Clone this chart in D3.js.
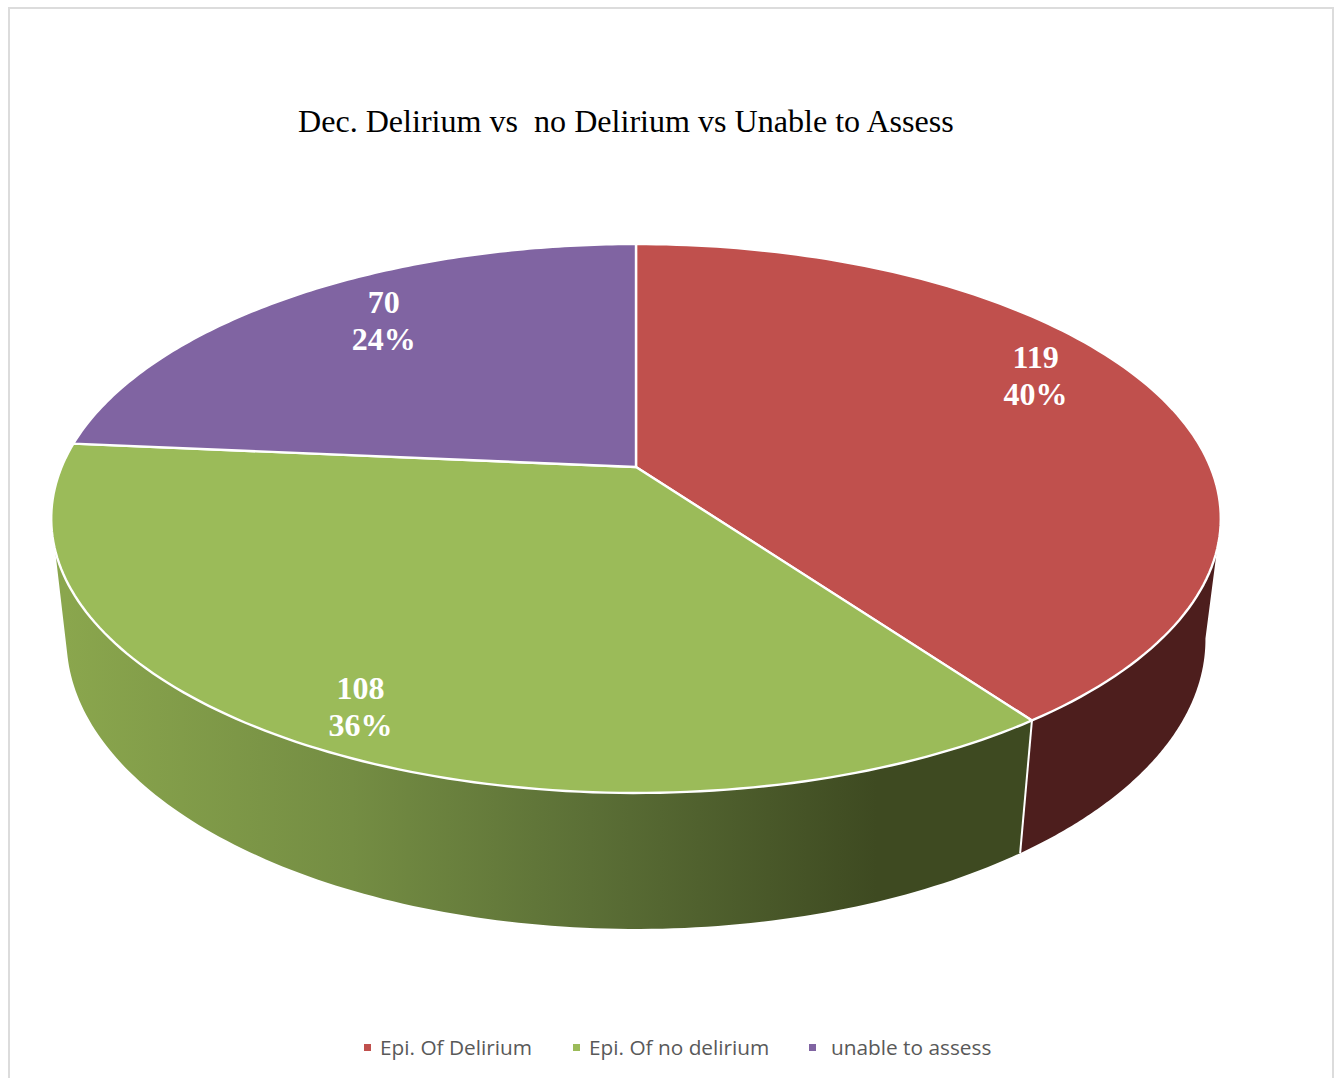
<!DOCTYPE html>
<html>
<head>
<meta charset="utf-8">
<script src="https://cdn.jsdelivr.net/npm/d3@7/dist/d3.min.js"></script>
<style>
html,body{margin:0;padding:0;background:#fff;overflow:hidden}
svg{display:block}
text{white-space:pre}
</style>
</head>
<body>
<svg id="chart" width="1338" height="1078"></svg>
<script>
const categories = ["Epi. Of Delirium", "Epi. Of no delirium", "unable to assess"];
const values = [119, 108, 70];
const percents = ["40%", "36%", "24%"];
const topColors = ["#c0504d", "#9bbb59", "#8064a2"];
const wallColors = ["#4d1e1d", "url(#greenWall)", "#3a2c4a"];
const chartTitle = "Dec. Delirium vs  no Delirium vs Unable to Assess";
const greenWallStops = [[0, "#8aa64d"], [0.3, "#748d43"], [0.55, "#5b6f36"], [0.85, "#3e4a21"], [1, "#3e4a21"]];

// Perspective model of the disc: c = pie centre on screen, a/b = horizontal / vertical
// scale, p = foreshortening, s = extra depth of the lower rim, t = drop of the lower rim.
const view = {cx: 636, cy: 467, a: 574.4, b: 264.8, p: 0.1876, s: 0.026, t: 122.5};
const project = (angle, r = 1, lower = false) => {
  const u = r * Math.sin(angle), v = r * Math.cos(angle);
  const w = 1 + view.p * v + (lower ? view.s : 0);
  return [view.cx + view.a * u / w, view.cy + (-view.b * v + (lower ? view.t : 0)) / w];
};

const svg = d3.select("#chart");
const line = d3.line();
const arcSamples = (a0, a1, lower) =>
  d3.range(0, 121).map(i => project(a0 + (a1 - a0) * i / 120, 1, lower));

const pie = d3.pie().sort(null).value(d => d);
const arcs = pie(values);

// frame
const frame = svg.append("g").attr("fill", "#dcdcdc");
frame.append("rect").attr("x", 8).attr("y", 7).attr("width", 1326).attr("height", 2);
frame.append("rect").attr("x", 8).attr("y", 7).attr("width", 2).attr("height", 1071);
frame.append("rect").attr("x", 1332).attr("y", 7).attr("width", 2).attr("height", 1071);

// gradient of the green wall
const grad = svg.append("defs").append("linearGradient")
  .attr("id", "greenWall").attr("gradientUnits", "userSpaceOnUse")
  .attr("x1", 66).attr("x2", 1020).attr("y1", 0).attr("y2", 0);
grad.selectAll("stop").data(greenWallStops).join("stop")
  .attr("offset", d => d[0]).attr("stop-color", d => d[1]);

// visible wall: its silhouette angles differ slightly between the upper and lower rim
const upperStart = Math.PI - Math.acos(0.296), upperEnd = Math.PI + Math.acos(0.296);
const lowerStart = Math.PI - Math.acos(0.18), lowerEnd = Math.PI + Math.acos(0.241);
const wallData = arcs.map((d, i) => ({
  i,
  t0: Math.max(d.startAngle, upperStart), t1: Math.min(d.endAngle, upperEnd),
  b0: Math.max(d.startAngle, lowerStart), b1: Math.min(d.endAngle, lowerEnd)
})).filter(d => d.t1 > d.t0);

svg.append("g").selectAll("path").data(wallData).join("path")
  .attr("d", d => line(arcSamples(d.t0, d.t1, false).concat(arcSamples(d.b1, d.b0, true))) + "Z")
  .attr("fill", d => wallColors[d.i]);

// white seam between the wall segments
svg.append("g").selectAll("line").data(arcs.slice(0, 1)).join("line")
  .attr("x1", d => project(d.endAngle, 1, false)[0])
  .attr("y1", d => project(d.endAngle, 1, false)[1])
  .attr("x2", d => project(d.endAngle, 1, true)[0])
  .attr("y2", d => project(d.endAngle, 1, true)[1])
  .attr("stroke", "#fff").attr("stroke-width", 2);

// top of the pie
svg.append("g").selectAll("path").data(arcs).join("path")
  .attr("d", d => line([[view.cx, view.cy]].concat(arcSamples(d.startAngle, d.endAngle, false))) + "Z")
  .attr("fill", (d, i) => topColors[i])
  .attr("stroke", "#fff").attr("stroke-width", 2.4).attr("stroke-linejoin", "round");

// data labels
const labelR = [0.829, 0.877, 0.786];
const labelAngleShift = [-0.146, -0.032, 0.068];
const labels = svg.append("g")
  .attr("font-family", "'Liberation Serif', serif").attr("font-weight", "bold")
  .attr("font-size", 32).attr("fill", "#fff").attr("text-anchor", "middle");
arcs.forEach((d, i) => {
  const mid = (d.startAngle + d.endAngle) / 2 + labelAngleShift[i];
  const [x, y] = project(mid, labelR[i]);
  labels.append("text").attr("x", x).attr("y", y - 8).text(values[i]);
  labels.append("text").attr("x", x).attr("y", y + 29).text(percents[i]);
});

// title
svg.append("text").attr("x", 298).attr("y", 132)
  .attr("font-family", "'Liberation Serif', serif").attr("font-size", 32.1)
  .attr("fill", "#000").text(chartTitle);

// legend
const legendX = [380, 589, 831];
const legend = svg.append("g");
legend.selectAll("rect").data(categories).join("rect")
  .attr("x", (d, i) => [364, 573, 809][i]).attr("y", 1044)
  .attr("width", 7).attr("height", 7).attr("fill", (d, i) => topColors[i]);
legend.selectAll("text").data(categories).join("text")
  .attr("x", (d, i) => legendX[i]).attr("y", 1055)
  .attr("font-family", "'Open Sans', sans-serif").attr("font-size", 20.8)
  .attr("fill", "#595959").text(d => d);
</script>
</body>
</html>
